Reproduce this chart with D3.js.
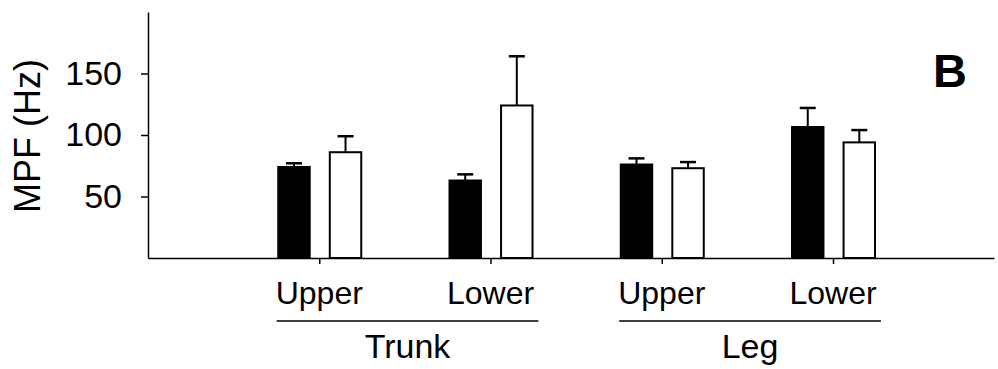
<!DOCTYPE html>
<html>
<head>
<meta charset="utf-8">
<script src="https://cdn.jsdelivr.net/npm/d3@7"></script>
<style>
  html, body { margin: 0; padding: 0; background: #fff; }
  svg { display: block; font-family: "Liberation Sans", Arial, Helvetica, sans-serif; }
</style>
</head>
<body>
<svg id="chart" width="998" height="369"></svg>
<script>
// Mean power frequency by body region and site
const regions = ["Trunk", "Leg"];
const sites = ["Upper", "Lower", "Upper", "Lower"];
const siteRegion = ["Trunk", "Trunk", "Leg", "Leg"];
const seriesNames = ["filled", "open"];
const filledMeans = [74, 63, 76, 106.5];
const filledErrors = [3, 5, 5, 15.5];
const openMeans = [86, 124, 73, 94];
const openErrors = [13, 40, 5, 10];
const yTicks = [50, 100, 150];
const yLabel = "MPF (Hz)";
const panelLabel = "B";

const svg = d3.select("#chart");

const x = d3.scaleLinear().domain([0, 4.94]).range([148, 994]);
const y = d3.scaleLinear().domain([0, 200]).range([258, 12]);
const sub = d3.scaleBand().domain(seriesNames).range([-41, 42]).paddingInner(0.39);

const rows = sites.map((s, i) => ({
  pos: i + 1,
  values: [
    { key: "filled", mean: filledMeans[i], err: filledErrors[i] },
    { key: "open", mean: openMeans[i], err: openErrors[i] }
  ]
}));

// bars
const groups = svg.append("g").selectAll("g").data(rows).join("g")
  .attr("transform", d => `translate(${x(d.pos)},0)`);

groups.selectAll("rect").data(d => d.values).join("rect")
  .attr("x", d => sub(d.key))
  .attr("width", sub.bandwidth())
  .attr("y", d => y(d.mean))
  .attr("height", d => y(0) - y(d.mean))
  .attr("fill", d => d.key === "filled" ? "#000" : "#fff")
  .attr("stroke", "#000")
  .attr("stroke-width", 2);

// error bars (upper half only)
const capW = 16;
groups.selectAll("g.err").data(d => d.values).join("g").attr("class", "err")
  .each(function (d) {
    const g = d3.select(this);
    const cx = sub(d.key) + sub.bandwidth() / 2;
    g.append("line")
      .attr("x1", cx).attr("x2", cx)
      .attr("y1", y(d.mean)).attr("y2", y(d.mean + d.err))
      .attr("stroke", "#000").attr("stroke-width", 2);
    g.append("line")
      .attr("x1", cx - capW / 2).attr("x2", cx + capW / 2)
      .attr("y1", y(d.mean + d.err)).attr("y2", y(d.mean + d.err))
      .attr("stroke", "#000").attr("stroke-width", 2.5);
  });

// axes
const yAxis = svg.append("g")
  .attr("transform", `translate(${x(0)},0)`)
  .call(d3.axisLeft(y).tickValues(yTicks).tickSize(7).tickSizeOuter(0).tickPadding(19));
yAxis.selectAll("text").attr("font-size", 34).attr("fill", "#000")
  .attr("font-family", "Liberation Sans, Arial, sans-serif");

const xAxis = svg.append("g")
  .attr("transform", `translate(0,${y(0)})`)
  .call(d3.axisBottom(x).tickValues(rows.map(r => r.pos)).tickSize(6).tickSizeOuter(0).tickFormat(""));

svg.selectAll(".domain").attr("stroke", "#000").attr("stroke-width", 1.5);
svg.selectAll(".tick line").attr("stroke", "#000").attr("stroke-width", 1.5);

// y axis title
svg.append("text")
  .attr("transform", "translate(40,136) rotate(-90)")
  .attr("text-anchor", "middle")
  .attr("font-size", 36)
  .text(yLabel);

// site labels
const siteText = svg.append("g").selectAll("text").data(sites).join("text")
  .attr("x", (d, i) => x(i + 1))
  .attr("y", 304)
  .attr("text-anchor", "middle")
  .attr("font-size", 32)
  .text(d => d);

// region underline and label
regions.forEach(r => {
  const idx = siteRegion.map((s, i) => s === r ? i : -1).filter(i => i >= 0);
  const boxes = idx.map(i => siteText.nodes()[i].getBBox());
  const x1 = d3.min(boxes, b => b.x) + 1;
  const x2 = d3.max(boxes, b => b.x + b.width) + 4;
  svg.append("line")
    .attr("x1", x1).attr("x2", x2)
    .attr("y1", 321).attr("y2", 321)
    .attr("stroke", "#000").attr("stroke-width", 1.5);
  svg.append("text")
    .attr("x", (x1 + x2) / 2)
    .attr("y", 358)
    .attr("text-anchor", "middle")
    .attr("font-size", 34)
    .text(r);
});

// panel letter
svg.append("text")
  .attr("x", 933)
  .attr("y", 87)
  .attr("font-size", 47)
  .attr("font-weight", "bold")
  .text(panelLabel);
</script>
</body>
</html>
